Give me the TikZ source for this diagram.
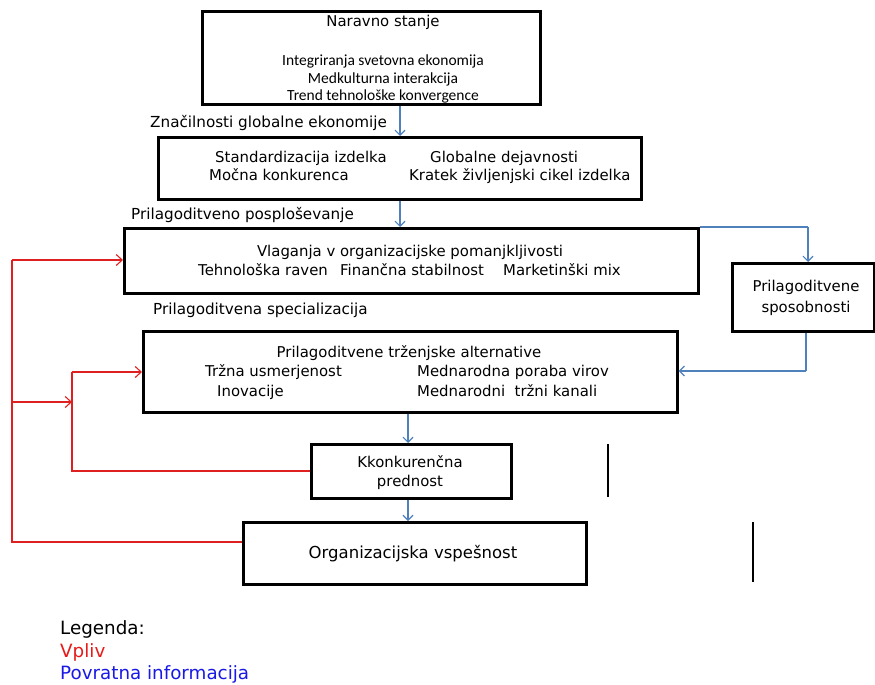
\documentclass[tikz,border=0pt]{standalone}
\usepackage{fontspec}
\setmainfont{DejaVu Sans}
\newfontfamily\calib{Carlito}
\usetikzlibrary{arrows.meta}
\definecolor{fb}{RGB}{79,129,189}
\definecolor{vr}{RGB}{222,32,32}
\definecolor{lb}{RGB}{25,25,230}
\definecolor{lr}{RGB}{232,25,25}
\begin{document}
\begin{tikzpicture}[x=1pt,y=-1pt,
  box/.style={draw=black, line width=2.6pt, inner sep=0pt, anchor=north west},
  txt/.style={inner sep=0pt, text height=0.75em, text depth=0.2em, font=\fontsize{14.9}{17}\selectfont},
  lab/.style={txt, anchor=west, font=\fontsize{15.2}{17}\selectfont},
  ctxt/.style={txt, font=\calib\fontsize{15.5}{17}\selectfont},
  btxt/.style={txt, font=\fontsize{16.5}{18}\selectfont},
  ltxt/.style={txt, anchor=west, font=\fontsize{18.3}{20}\selectfont},
  fback/.style={fb, line width=1.2pt, -{Straight Barb[length=5pt,width=10pt]}},
  fline/.style={fb, line width=1.2pt},
  infl/.style={vr, line width=1.1pt, -{Straight Barb[length=6pt,width=11pt]}},
  iline/.style={vr, line width=1.1pt},
  sep/.style={black, line width=1.8pt}]
\useasboundingbox (0,0) rectangle (875,685);

% boxes
\node[box, minimum width=338pt, minimum height=93pt] (n1) at (201,10) {};
\node[box, minimum width=483pt, minimum height=62pt] (n2) at (157,136) {};
\node[box, minimum width=574pt, minimum height=65pt] (n3) at (123,227) {};
\node[box, minimum width=142pt, minimum height=68pt] (n4) at (731,262) {};
\node[box, minimum width=534pt, minimum height=81pt] (n5) at (142,330) {};
\node[box, minimum width=200pt, minimum height=54pt] (n6) at (310,443) {};
\node[box, minimum width=343pt, minimum height=62pt] (n7) at (242,521) {};

% texts box 1
\node[txt] (t1a) at (383,24) {Naravno stanje};
\node[ctxt] (t1b) at (383,63) {Integriranja svetovna ekonomija};
\node[ctxt] (t1c) at (383,80.5) {Medkulturna interakcija};
\node[ctxt] (t1d) at (383,98) {Trend tehnološke konvergence};

\node[lab] (l1) at (150,125) {Značilnosti globalne ekonomije};

% box 2
\node[txt, anchor=west] (t2a) at (215,160) {Standardizacija izdelka};
\node[txt, anchor=west] (t2b) at (430,160) {Globalne dejavnosti};
\node[txt, anchor=west] (t2c) at (209,178) {Močna konkurenca};
\node[txt, anchor=west] (t2d) at (409,178) {Kratek življenjski cikel izdelka};

\node[lab] (l2) at (131,217) {Prilagoditveno posploševanje};

% box 3
\node[txt] (t3a) at (410,254) {Vlaganja v organizacijske pomanjkljivosti};
\node[txt, anchor=west] (t3b) at (198,273) {Tehnološka raven};
\node[txt, anchor=west] (t3c) at (340,273) {Finančna stabilnost};
\node[txt, anchor=west] (t3d) at (503,273) {Marketinški mix};

% box 4
\node[txt] (t4a) at (806,289) {Prilagoditvene};
\node[txt] (t4b) at (806,310) {sposobnosti};

\node[lab] (l3) at (153,312) {Prilagoditvena specializacija};

% box 5
\node[txt] (t5a) at (409,355) {Prilagoditvene trženjske alternative};
\node[txt, anchor=west] (t5b) at (205,374) {Tržna usmerjenost};
\node[txt, anchor=west] (t5c) at (417,374) {Mednarodna poraba virov};
\node[txt, anchor=west] (t5d) at (217,394) {Inovacije};
\node[txt, anchor=west] (t5e) at (417,394) {Mednarodni\ \ tržni kanali};

% box 6
\node[txt] (t6a) at (410,465) {Kkonkurenčna};
\node[txt] (t6b) at (410,484) {prednost};

% box 7
\node[btxt] (t7) at (413,556) {Organizacijska vspešnost};

% legend
\node[ltxt] (g1) at (60,632) {Legenda:};
\node[ltxt, text=lr] (g2) at (60,655) {Vpliv};
\node[ltxt, text=lb] (g3) at (60,677) {Povratna informacija};

% coordinates
\coordinate (xa) at (400,0);
\coordinate (xb) at (408,0);
\coordinate (xc) at (808,227);
\coordinate (xd) at (806,371);
\coordinate (ra) at (12,542);
\coordinate (rb) at (12,260);
\coordinate (rc) at (12,402);
\coordinate (rd) at (72,402);
\coordinate (re) at (72,372);
\coordinate (rf) at (242,542);
\coordinate (rg) at (310,471);

% blue connectors
\draw[fback] (n1.south -| xa) -- (n2.north -| xa);
\draw[fback] (n2.south -| xa) -- (n3.north -| xa);
\draw[fback] (n5.south -| xb) -- (n6.north -| xb);
\draw[fback] (n6.south -| xb) -- (n7.north -| xb);
\draw[fline] (n3.north east) -- (xc);
\draw[fback] (xc) -- (n4.north -| xc);
\draw[fline] (n4.south -| xd) -- (xd);
\draw[fback] (xd) -- (xd -| n5.east);

% red connectors
\draw[iline] (rf) -- (ra) -- (rb);
\draw[infl] (rb) -- (rb -| n3.west);
\draw[infl] (rc) -- (rd);
\draw[iline] (rg) -| (re);
\draw[infl] (re) -- (re -| n5.west);

% separators
\draw[sep] (608,444) -- (608,497);
\draw[sep] (753,522) -- (753,582);
\end{tikzpicture}
\end{document}
